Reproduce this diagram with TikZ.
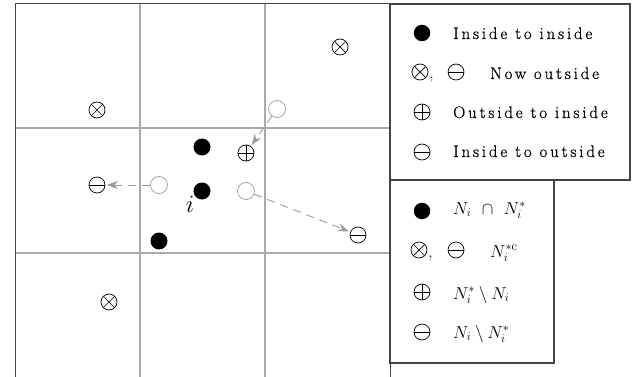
\documentclass[tikz,border=0pt]{standalone}
\usepackage{fontspec}
\newfontfamily\legfont{Latin Modern Roman}[LetterSpace=17,FakeBold=0.6]
\usetikzlibrary{arrows.meta}
\definecolor{gridgray}{HTML}{AAAAAA}
\definecolor{ghostgray}{HTML}{9A9A9A}
\definecolor{framegray}{HTML}{444444}
\begin{document}
\begin{tikzpicture}[x=1pt,y=-1pt,
  sym/.style={circle, draw=black, line width=0.7pt, minimum size=16pt, inner sep=0pt},
  otim/.style={sym, path picture={\draw[line width=0.7pt]
     (path picture bounding box.north west) -- (path picture bounding box.south east)
     (path picture bounding box.north east) -- (path picture bounding box.south west);}},
  opl/.style={sym, path picture={\draw[line width=0.7pt]
     (path picture bounding box.north) -- (path picture bounding box.south)
     (path picture bounding box.west) -- (path picture bounding box.east);}},
  omin/.style={sym, path picture={\draw[line width=0.7pt]
     (path picture bounding box.west) -- (path picture bounding box.east);}},
  dot/.style={circle, fill=black, minimum size=17pt, inner sep=0pt},
  ghost/.style={circle, draw=ghostgray, line width=0.7pt, minimum size=17pt, inner sep=0pt},
  mv/.style={draw=ghostgray, line width=0.9pt, dash pattern=on 8pt off 6pt,
     -{Stealth[length=11pt,width=8pt,fill=ghostgray]}, shorten >=1.5pt},
  gridline/.style={draw=gridgray, line width=1.1pt},
  legbox/.style={draw=framegray, line width=1.3pt},
  txt/.style={anchor=base west, inner sep=0pt,
     font=\legfont\fontsize{16.8}{19}\selectfont},
  mtxt/.style={anchor=base west, inner sep=0pt, font=\fontsize{18.5}{21}\selectfont}
]
\useasboundingbox (0,0) rectangle (634,377);
% grid
\draw[gridline] (140,4) -- (140,377);
\draw[gridline] (265,4) -- (265,377);
\draw[gridline] (15,128) -- (390,128);
\draw[gridline] (15,253) -- (390,253);
\draw[draw=framegray, line width=1pt] (15,377) -- (15,4) -- (390,4);
\draw[draw=framegray, line width=1pt] (390,4) -- (390,377);
% legend boxes
\draw[legbox] (390,4) rectangle (630,180);
\draw[legbox] (390,180) rectangle (554,363);
% particles
\node[otim] (x1) at (340,47) {};
\node[otim] (x2) at (97,110) {};
\node[otim] (x3) at (109,302) {};
\node[ghost] (g2) at (277,109) {};
\node[opl] (p1) at (246,153) {};
\node[dot] (d1) at (202,147) {};
\node[dot] (d2) at (202,191) {};
\node[dot] (d3) at (159,241) {};
\node[ghost] (g1) at (159,185) {};
\node[omin] (m1) at (97,185) {};
\node[ghost] (g3) at (246,191) {};
\node[omin] (m2) at (358,235) {};
\node[font=\fontsize{24}{26}\selectfont, inner sep=0pt] (lbl) at (190,204) {$i$};
% moves
\draw[mv] (g1) -- (m1);
\draw[mv] (g2) -- (p1);
\draw[mv] (g3) -- (m2);
% legend 1
\node[dot, minimum size=16.5pt] (la) at (422,33) {};
\node[txt] (ta) at (453,39) {Inside to inside};
\node[otim] (lb1) at (420,72) {};
\node[mtxt] (lbc) at (429,79) {,};
\node[omin] (lb2) at (456,72) {};
\node[txt] (tb) at (490,79) {Now outside};
\node[opl] (lc) at (422,112) {};
\node[txt] (tc) at (453,118) {Outside to inside};
\node[omin] (ld) at (422,152) {};
\node[txt] (td) at (453,157) {Inside to outside};
% legend 2
\node[dot, minimum size=16.5pt] (ma) at (422,211) {};
\node[mtxt] (sa) at (453,214) {$N_i\mkern7mu\cap\mkern7mu N_i^*$};
\node[otim] (mb1) at (419,250) {};
\node[mtxt] (mbc) at (428,257) {,};
\node[omin] (mb2) at (456,250) {};
\node[mtxt] (sb) at (490,257) {$N_i^{*\mathrm{c}}$};
\node[opl] (mc) at (422,292) {};
\node[mtxt] (sc) at (453,299) {$N_i^*\setminus N_i$};
\node[omin] (md) at (422,332) {};
\node[mtxt] (sd) at (453,338) {$N_i\setminus N_i^*$};
\end{tikzpicture}
\end{document}
